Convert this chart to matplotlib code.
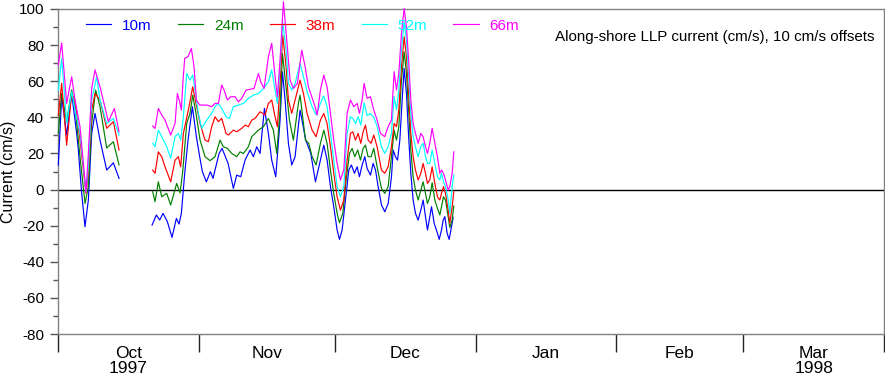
import numpy as np
import pandas as pd
import matplotlib
matplotlib.use("Agg")
import matplotlib.pyplot as plt
import matplotlib.dates as mdates

plt.rcParams['font.family'] = ['Liberation Sans', 'DejaVu Sans']

START = pd.Timestamp('1997-10-01')
END = pd.Timestamp('1998-04-01')

depth_labels = ['10m', '24m', '38m', '52m', '66m']
colors = ['#0000ff', '#008000', '#ff0000', '#00ffff', '#ff00ff']
month_labels = ['Oct\n1997', 'Nov', 'Dec', 'Jan', 'Feb', 'Mar\n1998']
y_ticks = [-80, -60, -40, -20, 0, 20, 40, 60, 80, 100]

# time in days since 1 Oct 1997; values in cm/s (including 10 cm/s offsets)
t_10m = [0.07, 0.81, 1.91, 3.01, 4.11, 4.48, 5.22, 5.95, 6.69, 7.42, 8.16, 9.26, 10.73, 12.2, 13.45,
         20.72, 21.67, 22.41, 23.14, 24.10, 25.12, 26.08, 26.67, 27.18, 27.92, 28.65, 29.61, 30.49,
         31.22, 31.81, 32.69, 33.57, 34.16, 35.49, 36.15, 37.47, 38.64, 39.38, 40.26, 41.22, 42.32,
         43.05, 43.79, 44.52, 45.48, 46.36, 47.09, 47.98, 48.93, 49.45, 50.04, 50.77, 51.50, 52.24,
         53.34, 54.59, 55.70, 56.72, 57.82, 58.56, 59.30, 60.03, 60.76, 61.50, 62.02, 62.60, 63.34,
         64.07, 64.66, 65.32, 65.91, 66.42, 67.01, 67.60, 68.11, 68.85, 69.44, 69.96, 70.54, 71.28,
         72.01, 72.75, 73.48, 73.85, 74.36, 74.81, 75.32, 75.83, 76.27, 76.78, 77.30, 77.74, 78.25,
         78.77, 79.35, 79.94, 80.46, 80.97, 81.41, 81.93, 82.30, 82.89, 83.62, 83.99, 84.50, 84.87,
         85.24, 85.75, 86.19, 86.70, 87.07]
v_10m = [13.6, 51.4, 30.2, 53.2, 31.1, 21.9, -2.1, -20.6, -5.8, 31.1, 42.2, 27.4, 10.8, 14.8, 6.2,
         -19.7, -14.1, -16.9, -13.2, -17.8, -26.5, -16.0, -19.1, -13.2, 9.0, 27.4, 45.9, 29.3,
         18.2, 9.9, 4.3, 9.9, 6.2, 20.0, 22.8, 14.5, 0.6, 8.0, 7.1, 16.3, 21.9,
         18.2, 23.7, 20.0, 45.0, 31.1, 16.3, 7.1, 38.5, 65.2, 49.5, 25.6, 13.6, 18.2,
         44.0, 27.4, 20.0, 4.3, 16.3, 24.6, 16.3, 1.6, -9.5, -22.4, -27.6, -22.4, -5.8,
         10.8, 13.6, 9.0, 12.6, 7.1, 13.6, 18.2, 11.7, 8.0, 14.5, 10.8, 1.6, -8.6,
         -12.3, -7.7, 7.1, 21.9, 18.2, 16.3, 27.4, 49.5, 67.1, 53.2, 27.4, 9.0, -5.8,
         -13.2, -16.9, -11.4, -5.8, -15.0, -22.4, -15.0, -9.5, -18.7, -24.3, -27.6, -22.4, -16.9,
         -15.0, -24.3, -27.6, -20.6, -15.4]

t_24m = [0.07, 0.81, 1.91, 3.01, 3.75, 4.85, 5.95, 6.69, 7.42, 8.30, 9.26, 10.73, 12.2, 13.45,
         20.86, 21.38, 22.11, 22.85, 23.95, 24.83, 26.15, 26.89, 27.48, 28.36, 29.09, 29.68, 30.41,
         31.30, 32.40, 33.50, 34.60, 35.71, 36.44, 37.32, 38.28, 39.38, 40.11, 40.85, 41.95, 42.69,
         43.42, 44.16, 45.26, 46.36, 47.46, 48.20, 48.93, 49.45, 50.40, 50.99, 51.87, 52.97, 53.34,
         54.52, 55.25, 55.99, 56.87, 57.82, 58.56, 59.29, 60.03, 60.76, 61.50, 62.01, 62.75, 63.48,
         64.22, 64.80, 65.39, 66.05, 66.64, 67.23, 67.74, 68.33, 68.99, 69.58, 70.31, 71.27, 72.00,
         72.74, 73.47, 74.06, 74.58, 75.09, 75.68, 76.27, 76.78, 77.30, 77.74, 78.25, 78.76, 79.35,
         79.94, 80.45, 80.97, 81.41, 81.92, 82.44, 83.03, 83.61, 84.13, 84.50, 84.94, 85.38, 85.97,
         86.33, 86.85, 87.21]
v_24m = [31.1, 53.2, 37.6, 55.1, 45.9, 18.2, -7.7, 1.6, 36.6, 55.1, 45.9, 23.0, 26.5, 13.6,
         -1.2, -6.7, 4.3, -4.0, -2.1, -8.6, 3.4, -1.8, 9.9, 36.6, 42.2, 52.3, 42.2,
         27.4, 18.2, 16.0, 18.2, 27.4, 23.7, 22.8, 20.0, 18.2, 20.9, 20.0, 23.7, 29.3,
         31.1, 32.9, 34.8, 39.4, 32.9, 20.0, 44.0, 75.4, 53.2, 38.5, 27.4, 47.7, 52.3,
         27.4, 25.6, 18.2, 13.6, 25.6, 32.9, 25.6, 10.8, -2.1, -13.2, -18.4, -13.2, 5.3,
         20.0, 22.8, 18.2, 21.9, 16.3, 22.8, 24.6, 18.2, 18.2, 22.8, 12.6, 0.6, -2.1,
         1.6, 18.2, 32.9, 27.4, 34.8, 60.6, 76.3, 64.3, 42.2, 21.9, 7.1, -0.3, -5.8,
         -0.3, 4.3, -2.1, -7.7, -4.0, 3.8, -5.8, -10.4, -14.1, -9.5, -4.0, -5.8, -15.0,
         -21.0, -16.9, -9.1]

t_38m = [0.07, 0.81, 1.91, 3.01, 3.75, 4.85, 6.17, 6.69, 7.42, 8.16, 9.26, 10.73, 12.2, 13.45,
         20.86, 21.38, 22.11, 22.85, 23.58, 24.83, 25.79, 26.52, 27.03, 27.62, 28.72, 29.68, 30.41,
         31.30, 32.40, 33.13, 33.87, 34.60, 35.34, 36.07, 37.03, 37.54, 38.64, 39.38, 40.48, 41.22,
         41.95, 42.69, 43.42, 44.52, 45.63, 46.36, 47.09, 47.83, 48.34, 48.93, 49.52, 50.25, 50.77,
         51.50, 52.24, 53.34, 54.08, 54.88, 55.99, 56.87, 57.82, 58.56, 59.29, 60.03, 60.76, 61.50,
         62.23, 62.97, 63.70, 64.44, 64.95, 65.54, 66.13, 66.71, 67.23, 67.74, 68.33, 68.99, 69.58,
         70.31, 71.27, 72.00, 72.74, 73.47, 74.06, 74.58, 75.09, 75.68, 76.27, 76.78, 77.30, 77.74,
         78.25, 78.76, 79.35, 79.94, 80.45, 80.97, 81.41, 81.92, 82.44, 83.03, 83.61, 84.13, 84.50,
         84.94, 85.38, 85.97, 86.33, 86.85, 87.21]
v_38m = [41.0, 58.8, 24.6, 53.2, 48.6, 27.4, -2.1, 9.0, 44.0, 53.2, 49.6, 33.9, 37.6, 21.9,
         10.8, 9.0, 20.9, 18.2, 12.6, 4.3, 16.3, 18.2, 12.6, 31.1, 44.0, 56.9, 47.7,
         36.6, 27.4, 26.5, 34.8, 40.3, 37.6, 39.4, 31.1, 30.2, 32.9, 32.0, 33.9, 35.7,
         34.8, 38.5, 39.4, 43.1, 41.3, 47.7, 49.6, 40.3, 34.8, 58.8, 85.5, 68.1, 49.6,
         42.2, 49.6, 60.6, 53.2, 42.2, 32.9, 29.3, 38.5, 42.2, 36.6, 23.7, 9.0, -4.0,
         -11.4, -5.8, 16.3, 31.1, 32.0, 27.4, 31.1, 25.6, 32.0, 35.7, 27.4, 25.6, 30.2,
         23.7, 10.8, 9.0, 12.6, 23.7, 36.6, 34.8, 44.0, 68.1, 84.6, 73.6, 51.4, 31.1,
         18.2, 10.8, 5.3, 9.0, 14.5, 9.0, 3.4, 5.3, 12.6, 3.4, -4.0, -5.8, -2.1,
         1.6, -2.1, -11.4, -18.7, -9.5, -1.2]

t_52m = [0.07, 0.81, 1.91, 3.01, 3.75, 4.85, 6.17, 6.69, 7.42, 8.52, 9.26, 10.73, 12.2, 13.45,
         20.86, 21.38, 22.11, 22.85, 23.95, 24.83, 25.79, 26.52, 27.03, 27.62, 28.36, 29.09, 29.68,
         30.19, 30.93, 31.66, 32.77, 33.87, 34.60, 35.34, 36.07, 37.03, 37.76, 38.64, 39.75, 40.85,
         41.95, 43.05, 44.16, 45.26, 46.36, 47.09, 47.83, 48.34, 48.93, 49.52, 50.25, 50.77, 51.50,
         52.24, 53.34, 54.08, 54.88, 55.99, 56.87, 57.82, 58.56, 59.29, 60.03, 60.76, 61.50, 62.23,
         62.97, 63.70, 64.44, 64.95, 65.54, 66.13, 66.71, 67.45, 68.11, 68.85, 69.58, 70.31, 71.27,
         72.00, 72.74, 73.47, 74.06, 74.58, 75.09, 75.68, 76.27, 76.78, 77.30, 77.74, 78.25, 78.76,
         79.35, 79.94, 80.45, 80.97, 81.41, 81.92, 82.44, 83.03, 83.61, 84.13, 84.50, 84.94, 85.38,
         85.97, 86.33, 86.85, 87.21]
v_52m = [55.0, 72.7, 37.0, 54.2, 44.0, 31.1, -1.2, 12.6, 49.6, 62.5, 49.6, 36.6, 39.4, 30.2,
         25.6, 23.7, 32.9, 29.3, 23.7, 17.3, 29.3, 31.1, 27.4, 40.3, 64.3, 60.6, 63.4,
         55.1, 42.2, 33.9, 38.5, 42.2, 45.9, 47.7, 44.9, 40.3, 39.4, 45.9, 46.8, 47.7,
         50.5, 52.3, 53.2, 56.0, 59.7, 66.3, 55.1, 47.7, 68.1, 92.9, 77.2, 58.8, 55.1,
         58.8, 69.9, 62.5, 54.2, 45.9, 41.3, 47.7, 51.8, 45.9, 31.1, 16.3, 1.6, -4.0,
         1.6, 31.1, 40.3, 39.4, 36.6, 40.3, 35.7, 48.0, 41.0, 42.0, 40.0, 35.0, 23.7,
         20.0, 23.7, 31.1, 51.4, 44.0, 55.1, 77.2, 92.9, 82.8, 60.6, 42.2, 29.3, 23.7,
         18.2, 23.7, 25.6, 18.2, 14.5, 14.5, 21.9, 14.5, 7.1, 5.3, 9.0, 4.3, 1.6,
         -5.8, -13.2, 1.6, 8.0]

t_66m = [0.07, 0.81, 1.91, 3.01, 3.75, 4.85, 6.17, 6.69, 7.42, 8.16, 9.26, 11.1, 12.42, 13.45,
         20.86, 21.38, 22.11, 22.85, 23.58, 24.83, 25.79, 26.30, 26.81, 27.18, 27.55, 27.92, 28.65,
         29.39, 29.97, 30.49, 31.22, 32.03, 32.77, 33.87, 34.60, 35.34, 36.07, 36.59, 37.32, 38.06,
         39.01, 39.75, 40.48, 41.44, 42.32, 43.20, 44.16, 44.67, 45.40, 46.36, 47.09, 47.83, 48.34,
         48.93, 49.67, 50.40, 51.14, 51.87, 52.75, 53.71, 54.44, 55.18, 55.91, 56.65, 57.10, 57.82,
         58.56, 59.29, 60.03, 60.76, 61.50, 62.23, 62.97, 63.70, 64.44, 65.17, 65.91, 66.42, 67.01,
         67.45, 68.11, 68.85, 69.58, 70.31, 71.05, 72.00, 72.74, 73.47, 74.06, 74.58, 75.09, 75.68,
         76.27, 76.78, 77.30, 77.74, 78.25, 78.76, 79.35, 79.94, 80.45, 80.97, 81.41, 81.92, 82.44,
         83.03, 83.61, 84.13, 84.50, 84.94, 85.38, 85.97, 86.33, 86.85, 87.21]
v_66m = [69.0, 81.2, 47.7, 62.5, 49.6, 34.8, -1.5, 20.0, 56.0, 66.3, 56.9, 37.6, 44.9, 32.0,
         35.2, 33.9, 44.9, 41.3, 38.5, 30.2, 36.6, 53.2, 48.6, 44.0, 60.6, 72.7, 73.6,
         78.1, 68.1, 49.6, 46.8, 46.8, 46.8, 45.9, 47.7, 47.7, 57.9, 55.1, 49.6, 51.4,
         51.4, 48.6, 50.5, 55.1, 55.5, 56.0, 64.3, 59.7, 56.0, 73.6, 81.0, 62.5, 51.4,
         71.8, 104.0, 82.8, 60.6, 56.0, 58.8, 77.2, 68.1, 56.9, 51.4, 45.9, 41.3, 55.1,
         63.4, 56.9, 42.2, 27.4, 14.5, 5.3, 10.8, 42.2, 49.6, 45.9, 47.7, 42.2, 49.6,
         58.8, 50.5, 51.4, 44.0, 38.5, 31.1, 29.3, 34.8, 38.5, 65.3, 55.1, 64.3, 86.5,
         100.3, 90.2, 69.9, 49.6, 36.6, 31.1, 25.6, 31.1, 29.3, 23.7, 20.0, 25.6, 33.9,
         25.6, 18.2, 9.0, 10.8, 9.0, 5.3, -0.3, 1.6, 9.0, 20.9]

series = [(t_10m, v_10m), (t_24m, v_24m), (t_38m, v_38m), (t_52m, v_52m), (t_66m, v_66m)]


def with_gaps(t, v, max_gap=3.0):
    t = np.asarray(t, float)
    v = np.asarray(v, float)
    idx = np.where(np.diff(t) > max_gap)[0] + 1
    t = np.insert(t, idx, (t[idx - 1] + t[idx]) / 2)
    v = np.insert(v, idx, np.nan)
    return START + pd.to_timedelta(t, unit='D'), v


fig = plt.figure(figsize=(8.85, 3.76), dpi=100)
ax = fig.add_axes([58 / 885, 1 - 334 / 376, 826 / 885, 325 / 376])

for (t, v), lab, col in zip(series, depth_labels, colors):
    d, vv = with_gaps(t, v)
    ax.plot(d, vv, color=col, lw=0.85, label=lab, clip_on=False, zorder=3)

ax.axhline(0, color='black', lw=1.0, zorder=2)

ax.set_xlim(START, END)
ax.set_ylim(-80, 100)

bounds = pd.date_range(START, END, freq='MS')
mids = bounds[:-1] + (bounds[1:] - bounds[:-1]) / 2
ax.set_xticks(bounds)
ax.set_xticklabels([])
ax.set_xticks(mids, minor=True)
ax.set_xticklabels(month_labels, minor=True, fontsize=12.5, linespacing=1.0)
ax.tick_params(axis='x', which='major', length=13, width=1, color='#222222', direction='out')
ax.tick_params(axis='x', which='minor', length=0, pad=8.5)

ax.set_yticks(y_ticks)
ax.set_yticklabels([str(y) for y in y_ticks], fontsize=11)
ax.set_yticks(np.arange(-80, 101, 10), minor=True)
ax.tick_params(axis='y', which='major', length=6, width=1, color='#555555', pad=4)
ax.tick_params(axis='y', which='minor', length=3.5, width=1, color='#555555')

for s in ax.spines.values():
    s.set_color('#808080')
    s.set_linewidth(1.0)

ax.set_ylabel('Current (cm/s)', fontsize=11.5)
ax.yaxis.set_label_coords(-0.051, 0.5)

ax.legend(ncol=5, loc='upper left', bbox_to_anchor=(0.034, 0.97), frameon=False,
          fontsize=11, handlelength=1.65, handletextpad=0.72, columnspacing=1.7,
          labelcolor='linecolor', borderaxespad=0, borderpad=0)

ax.text(0.988, 0.914, 'Along-shore LLP current (cm/s), 10 cm/s offsets',
        transform=ax.transAxes, ha='right', va='center', fontsize=10.9, color='black')

fig.savefig('out.png', dpi=100)
